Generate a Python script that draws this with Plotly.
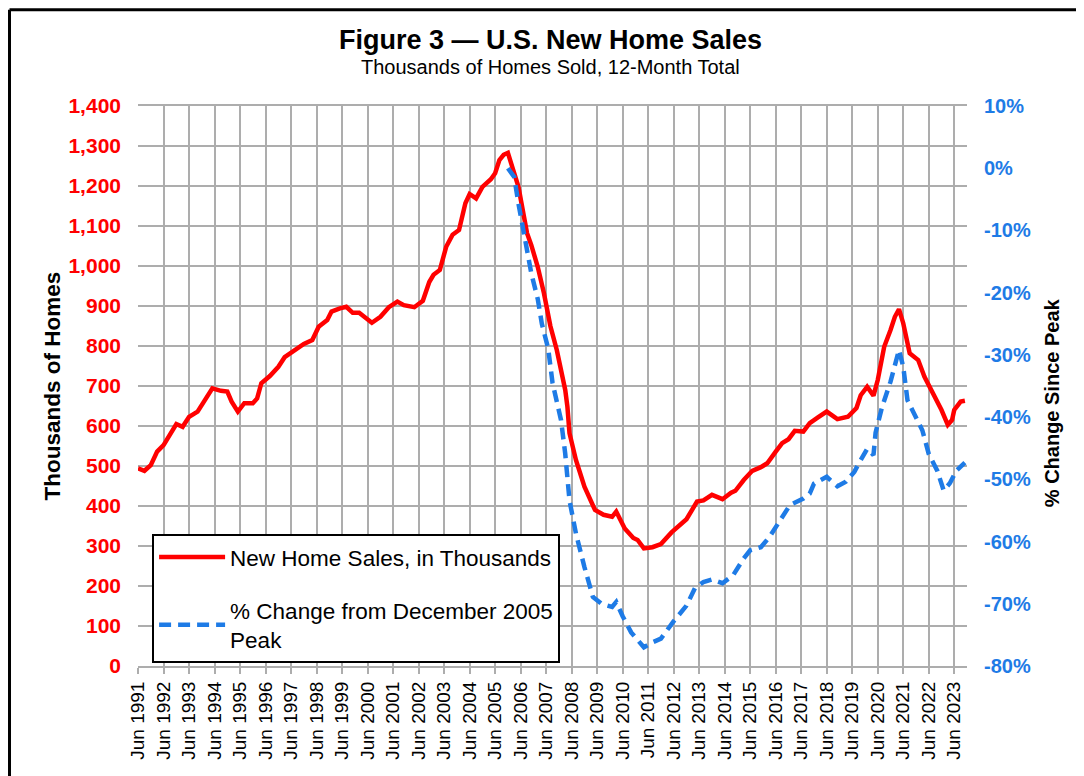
import plotly.graph_objects as go

# ===== data: 12-month total new home sales (thousands) =====
sales_dates = [
    "1991-06", "1991-09", "1991-12", "1992-03", "1992-06", "1992-10", "1992-12",
    "1993-03", "1993-06", "1993-10", "1994-01", "1994-03", "1994-05", "1994-09",
    "1994-12", "1995-02", "1995-05", "1995-08", "1995-12", "1996-02", "1996-04",
    "1996-08", "1996-12", "1997-03", "1997-07", "1997-12", "1998-04", "1998-07",
    "1998-11", "1999-01", "1999-05", "1999-08", "1999-11", "2000-02", "2000-08",
    "2000-12", "2001-04", "2001-08", "2001-11", "2002-04", "2002-08", "2002-11",
    "2003-01", "2003-04", "2003-07", "2003-10", "2004-01", "2004-04", "2004-06",
    "2004-09", "2004-12", "2005-04", "2005-06", "2005-08", "2005-10", "2005-12",
    "2006-02", "2006-05", "2006-07", "2006-09", "2006-11", "2007-02", "2007-05",
    "2007-08", "2007-11", "2008-01", "2008-03", "2008-04", "2008-05", "2008-08",
    "2008-12", "2009-05", "2009-09", "2010-01", "2010-03", "2010-07", "2010-11",
    "2011-01", "2011-04", "2011-08", "2011-12", "2012-05", "2012-12", "2013-05",
    "2013-08", "2013-12", "2014-03", "2014-05", "2014-09", "2014-11", "2015-03",
    "2015-07", "2015-11", "2016-02", "2016-06", "2016-09", "2016-12", "2017-03",
    "2017-07", "2017-10", "2018-02", "2018-06", "2018-11", "2019-04", "2019-08",
    "2019-10", "2020-01", "2020-04", "2020-06", "2020-09", "2020-12", "2021-02",
    "2021-04", "2021-06", "2021-09", "2022-01", "2022-04", "2022-09", "2022-12",
    "2023-03", "2023-05", "2023-06", "2023-09", "2023-11",
]
sales_values = [
    494, 488, 502, 536, 552, 590, 605,
    598, 623, 636, 661, 677, 694, 688,
    686, 661, 636, 657, 657, 669, 707,
    725, 748, 772, 786, 805, 815, 848,
    865, 886, 894, 898, 883, 883, 858,
    873, 897, 911, 902, 897, 913, 960,
    978, 990, 1048, 1078, 1090, 1157, 1180,
    1169, 1198, 1217, 1232, 1265, 1278, 1283,
    1248, 1198, 1140, 1082, 1052, 998, 932,
    850, 790, 738, 690, 648, 582, 515,
    448, 390, 378, 373, 386, 344, 320,
    315, 294, 297, 305, 334, 367, 411,
    414, 428, 422, 417, 433, 438, 465,
    488, 497, 507, 536, 557, 567, 588,
    586, 607, 622, 636, 617, 623, 645,
    677, 698, 676, 715, 798, 840, 873,
    892, 857, 782, 765, 723, 673, 640,
    603, 615, 640, 661, 663,
]

# ===== data: % change from December 2005 peak =====
pct_dates = [
    "2005-12", "2006-03", "2006-05", "2006-07", "2006-09", "2006-11", "2007-02",
    "2007-04", "2007-07", "2007-09", "2008-01", "2008-03", "2008-05", "2008-08",
    "2008-12", "2009-04", "2009-08", "2010-01", "2010-03", "2010-06", "2010-10",
    "2011-04", "2011-08", "2011-12", "2012-06", "2012-12", "2013-04", "2013-08",
    "2013-12", "2014-05", "2014-10", "2015-03", "2015-06", "2015-11", "2016-03",
    "2016-06", "2016-09", "2016-12", "2017-02", "2017-07", "2017-10", "2017-12",
    "2018-06", "2018-11", "2019-03", "2019-07", "2019-09", "2019-11", "2020-01",
    "2020-04", "2020-05", "2020-08", "2020-12", "2021-04", "2021-06", "2021-08",
    "2021-11", "2022-03", "2022-06", "2022-10", "2023-01", "2023-04", "2023-07",
    "2023-11",
]
pct_values = [
    0.0, -1.4, -5.7, -9.4, -13.2, -16.9, -21.0,
    -25.0, -29.0, -34.5, -40.5, -45.9, -53.4, -58.7,
    -64.1, -68.9, -70.0, -70.5, -69.7, -72.0, -74.6,
    -77.0, -76.2, -75.6, -72.8, -70.3, -67.5, -66.5,
    -66.1, -66.7, -65.4, -62.7, -61.4, -60.9, -59.3,
    -57.7, -56.1, -54.5, -53.9, -53.1, -52.3, -50.7,
    -49.6, -51.1, -50.4, -48.8, -47.5, -46.1, -45.1,
    -46.1, -42.5, -38.4, -34.3, -29.2, -31.9, -37.3,
    -39.5, -42.1, -45.9, -48.6, -51.8, -50.6, -48.6,
    -47.3,
]

tick_years = list(range(1991, 2024))
sales_ticks = list(range(0, 1401, 100))
pct_ticks = list(range(-80, 11, 10))

RED = "#FF0000"
BLUE = "#1E7BE6"
GRID = "#ADADAD"
FONT = "Arial, Liberation Sans, sans-serif"

# 页面 body 自带 8px 边距，图整体缩小 8px 以对齐
W, H = 1076, 768

fig = go.Figure()

fig.add_trace(go.Scatter(
    x=sales_dates, y=sales_values,
    mode="lines", name="New Home Sales, in Thousands",
    line=dict(color=RED, width=4.5),
    legendgroup="a",
))
fig.add_trace(go.Scatter(
    x=pct_dates, y=pct_values,
    mode="lines", name="% Change from December 2005<br>Peak",
    line=dict(color=BLUE, width=4.5, dash="12px,7px"),
    yaxis="y2", legendgroup="b",
))

# 标题 + 副标题
fig.add_annotation(
    text="<b>Figure 3 — U.S. New Home Sales</b>",
    xref="paper", yref="paper", x=0.498, y=1.118, yanchor="middle",
    showarrow=False, font=dict(size=27, color="black", family=FONT),
)
fig.add_annotation(
    text="Thousands of Homes Sold, 12-Month Total",
    xref="paper", yref="paper", x=0.498, y=1.0696, yanchor="middle",
    showarrow=False, font=dict(size=20, color="black", family=FONT),
)
# 右轴标题（位置略低于轴中心）
fig.add_annotation(
    text="<b>% Change Since Peak</b>",
    xref="paper", yref="paper", x=1.1025, y=0.471,
    xanchor="center", yanchor="middle", textangle=-90,
    showarrow=False, font=dict(size=20, color="black", family=FONT),
)

# 外框
fig.add_shape(type="line", xref="paper", yref="paper",
              x0=-0.155, x1=1.2, y0=1.172, y1=1.172,
              line=dict(color="black", width=3))
fig.add_shape(type="line", xref="paper", yref="paper",
              x0=-0.155, x1=-0.155, y0=1.172, y1=-0.3,
              line=dict(color="black", width=3))

fig.update_layout(
    width=W, height=H,
    plot_bgcolor="white", paper_bgcolor="white",
    margin=dict(l=130, r=117, t=98, b=110),
    font=dict(family=FONT, color="black"),
    showlegend=True,
    legend=dict(
        x=0.017, y=0.236, xanchor="left", yanchor="top",
        bgcolor="white", bordercolor="black", borderwidth=2,
        font=dict(size=22.5, family=FONT),
        tracegroupgap=21, itemwidth=66,
    ),
    xaxis=dict(
        type="date",
        range=["1991-06-01", "2023-12-01"],
        tickvals=[f"{y}-06-01" for y in tick_years],
        ticktext=[f"Jun {y}" for y in tick_years],
        tickangle=-90,
        tickfont=dict(size=19, color="black"),
        showgrid=True, gridcolor=GRID, gridwidth=2,
        showline=True, linecolor=GRID, linewidth=2, mirror=True,
        ticks="outside", ticklen=6, tickcolor=GRID, tickwidth=2,
    ),
    yaxis=dict(
        range=[0, 1400],
        tickvals=sales_ticks,
        ticktext=[f"<b>{v:,}</b>" for v in sales_ticks],
        tickfont=dict(size=21, color=RED),
        title=dict(text="<b>Thousands of Homes</b>", font=dict(size=22.5), standoff=1),
        showgrid=True, gridcolor=GRID, gridwidth=2,
        zeroline=False, ticklabelstandoff=16,
    ),
    yaxis2=dict(
        overlaying="y", side="right",
        range=[-80, 10],
        tickvals=pct_ticks,
        ticktext=[f"<b>{v}%</b>" for v in pct_ticks],
        tickfont=dict(size=20, color=BLUE),
        showgrid=False, zeroline=False, ticklabelstandoff=16,
    ),
)

fig.write_html("out.html")
